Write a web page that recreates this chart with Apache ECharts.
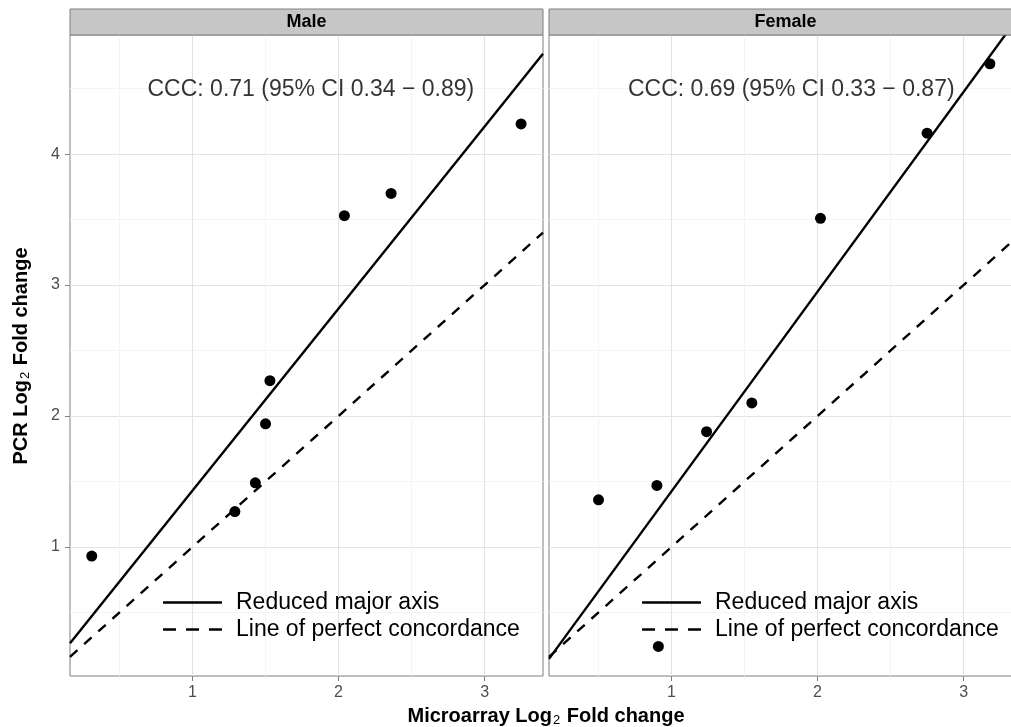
<!DOCTYPE html>
<html>
<head>
<meta charset="utf-8">
<script src="https://cdn.jsdelivr.net/npm/echarts@6/dist/echarts.min.js"></script>
<style>
html,body{margin:0;padding:0;background:#fff;}
#chart{width:1011px;height:727px;}
</style>
</head>
<body>
<div id="chart"></div>
<script>
// ---- data ----
const panels = ['Male', 'Female'];
const maleX = [0.31, 1.29, 1.43, 1.50, 1.53, 2.04, 2.36, 3.25];
const maleY = [0.93, 1.27, 1.49, 1.94, 2.27, 3.53, 3.70, 4.23];
const femaleX = [0.50, 0.90, 0.91, 1.24, 1.55, 2.02, 2.75, 3.18];
const femaleY = [1.36, 1.47, 0.24, 1.88, 2.10, 3.51, 4.16, 4.69];
const rmaIntercept = [0.04, -0.10];
const rmaSlope = [1.39, 1.525];
const concIntercept = [0, 0];
const concSlope = [1, 1];
const cccLabels = ['CCC: 0.71 (95% CI 0.34 \u2212 0.89)', 'CCC: 0.69 (95% CI 0.33 \u2212 0.87)'];
const cccX = [1.81, 1.82];
const cccY = [4.49, 4.49];
const xTicks = [1, 2, 3];
const yTicks = [1, 2, 3, 4];
const xMinor = [0.5, 1.5, 2.5];
const yMinor = [0.5, 1.5, 2.5, 3.5, 4.5];
const XMIN = 0.161, XMAX = 3.40, YMIN = 0.0145, YMAX = 4.9095;
const legendNames = ['Reduced major axis', 'Line of perfect concordance'];

const FONT = '"Liberation Sans", Arial, Helvetica, sans-serif';
const xs = [maleX, femaleX], ys = [maleY, femaleY];

const gridLefts = [70, 549];
const GTOP = 35, GH = 641, GW = 473;
const grids = gridLefts.map(l => ({
  left: l, top: GTOP, width: GW, height: GH, containLabel: false, outerBoundsMode: 'none',
  show: true, borderColor: '#7f7f7f', borderWidth: 1, backgroundColor: '#fff'
}));

const xAxes = [], yAxes = [];
for (let g = 0; g < 2; g++) {
  xAxes.push({
    type: 'value', gridIndex: g, min: XMIN, max: XMAX,
    axisLine: {show: false},
    axisTick: {show: true, customValues: xTicks, length: 5, lineStyle: {color: '#7f7f7f', width: 1}},
    axisLabel: {show: true, customValues: xTicks, color: '#4d4d4d', fontSize: 16, fontFamily: FONT, margin: 9},
    splitLine: {show: true, lineStyle: {color: '#e3e3e3', width: 1}}
  });
  yAxes.push({
    type: 'value', gridIndex: g, min: YMIN, max: YMAX,
    axisLine: {show: false},
    axisTick: {show: g === 0, customValues: yTicks, length: 5, lineStyle: {color: '#7f7f7f', width: 1}},
    axisLabel: {show: g === 0, customValues: yTicks, color: '#4d4d4d', fontSize: 16, fontFamily: FONT, margin: 10},
    splitLine: {show: true, lineStyle: {color: '#e3e3e3', width: 1}}
  });
}
// minor grid axes
for (let g = 0; g < 2; g++) {
  xAxes.push({
    type: 'value', gridIndex: g, min: XMIN, max: XMAX,
    axisLine: {show: false}, axisLabel: {show: false},
    axisTick: {show: false, customValues: xMinor},
    splitLine: {show: true, lineStyle: {color: '#f4f4f4', width: 1}}
  });
  yAxes.push({
    type: 'value', gridIndex: g, min: YMIN, max: YMAX,
    axisLine: {show: false}, axisLabel: {show: false},
    axisTick: {show: false, customValues: yMinor},
    splitLine: {show: true, lineStyle: {color: '#f4f4f4', width: 1}}
  });
}

const series = [];
for (let g = 0; g < 2; g++) {
  series.push({
    type: 'line', name: legendNames[0], xAxisIndex: g, yAxisIndex: g,
    data: [[XMIN, rmaIntercept[g] + rmaSlope[g] * XMIN], [XMAX, rmaIntercept[g] + rmaSlope[g] * XMAX]],
    showSymbol: false, symbol: 'none', clip: true, silent: true,
    lineStyle: {color: '#000', width: 2.4, type: 'solid'}, itemStyle: {color: '#000'}, z: 3
  });
  series.push({
    type: 'line', name: legendNames[1], xAxisIndex: g, yAxisIndex: g,
    data: [[XMIN, concIntercept[g] + concSlope[g] * XMIN], [XMAX, concIntercept[g] + concSlope[g] * XMAX]],
    showSymbol: false, symbol: 'none', clip: true, silent: true,
    lineStyle: {color: '#000', width: 2.4, type: [10, 9]}, itemStyle: {color: '#000'}, z: 3
  });
  series.push({
    type: 'scatter', name: panels[g] + ' points', xAxisIndex: g, yAxisIndex: g,
    data: xs[g].map((x, i) => [x, ys[g][i]]),
    symbol: 'circle', symbolSize: 11, itemStyle: {color: '#000', opacity: 1}, z: 4
  });
  series.push({
    type: 'scatter', name: panels[g] + ' ccc', xAxisIndex: g, yAxisIndex: g,
    data: [[cccX[g], cccY[g]]], symbolSize: 0, silent: true,
    label: {show: true, position: 'inside', formatter: cccLabels[g], color: '#000', fontSize: 23, fontFamily: FONT},
    z: 5
  });
}

// legend key glyphs: 59 x 14 box, bar 2.4 px tall in the middle
const solidIcon = 'path://M0 0L0.01 0M0 14L0.01 14M0 5.8H59V8.2H0Z';
const dashIcon = 'path://M0 0L0.01 0M0 14L0.01 14M0 5.8H13V8.2H0Z M23 5.8H36V8.2H23Z M46 5.8H59V8.2H46Z';
const legendBase = {
  orient: 'vertical', top: 586, itemWidth: 59, itemHeight: 14, itemGap: 4,
  selectedMode: false,
  data: [{name: legendNames[0], icon: solidIcon}, {name: legendNames[1], icon: dashIcon}],
  itemStyle: {color: '#000', borderWidth: 0},
  textStyle: {fontSize: 23, fontFamily: FONT, color: '#000', lineHeight: 23, padding: [0, 0, 0, 9]}
};

const graphic = [];
const strips = [[70, 'Male'], [549, 'Female']];
strips.forEach(([l, t]) => {
  graphic.push({type: 'rect', shape: {x: l, y: 9, width: GW, height: GTOP - 9},
    style: {fill: '#c6c6c6', stroke: '#7f7f7f', lineWidth: 1}, z: 10});
  graphic.push({type: 'text', x: l + GW / 2, y: 22,
    style: {text: t, fill: '#000', font: 'bold 18px ' + FONT, align: 'center', verticalAlign: 'middle'}, z: 11});
});
const richT = {
  b: {fontSize: 20, fontWeight: 'bold', fontFamily: FONT, color: '#000'},
  s: {fontSize: 13, fontFamily: FONT, color: '#000', padding: [9, 1, 0, 1]}
};
graphic.push({type: 'text', x: 546, y: 716,
  style: {text: '{b|Microarray Log}{s|2}{b| Fold change}', rich: richT, align: 'center', verticalAlign: 'middle'}});
graphic.push({type: 'text', x: 21, y: 356, rotation: Math.PI / 2,
  style: {text: '{b|PCR Log}{s|2}{b| Fold change}', rich: richT, align: 'center', verticalAlign: 'middle'}});

const chart = echarts.init(document.getElementById('chart'), null, {renderer: 'canvas'});
chart.setOption({
  animation: false,
  backgroundColor: '#fff',
  grid: grids,
  xAxis: xAxes,
  yAxis: yAxes,
  legend: [Object.assign({left: 158}, legendBase), Object.assign({left: 637}, legendBase)],
  series: series,
  graphic: graphic
});
</script>
</body>
</html>
